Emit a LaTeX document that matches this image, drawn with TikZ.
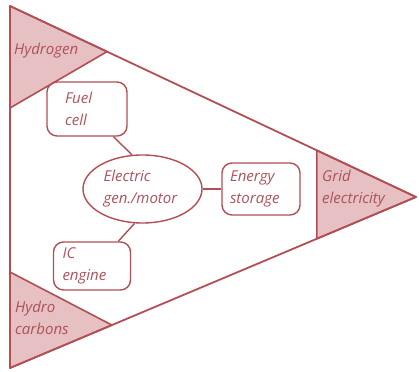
\documentclass[tikz,border=0pt]{standalone}
\usepackage{fontspec}
\setmainfont{Open Sans}
\usetikzlibrary{shapes.geometric,calc}

\definecolor{edgered}{RGB}{178,78,84}
\definecolor{fillred}{RGB}{230,192,194}
\definecolor{textred}{RGB}{172,82,90}

\tikzset{
    lbl/.style={text=textred,font=\fontsize{15}{22}\selectfont\itshape,align=left,inner sep=0pt},
    unitbox/.style={draw=edgered,line width=1.4pt,rounded corners=10pt,lbl},
    link/.style={draw=edgered,line width=1.4pt},
    corner/.style={fill=fillred,draw=edgered,line width=1.6pt,line join=round}
}

\begin{document}
\begin{tikzpicture}[x=1pt,y=1pt]
        \useasboundingbox (0,0) rectangle (419,371);

        \coordinate (tl) at (10,365);
        \coordinate (bl) at (10,3);
        \coordinate (tip) at (416,174);

        \coordinate (h1) at ($(tl)!0.239!(tip)$);
        \coordinate (h2) at (10,263);
        \coordinate (c1) at (10,99);
        \coordinate (c2) at ($(bl)!0.251!(tip)$);
        \coordinate (g1) at ($(tl)!0.756!(tip)$);
        \coordinate (g2) at ($(bl)!0.756!(tip)$);

        % sources at the corners
        \filldraw[corner] (tl) -- (h1) -- (h2) -- cycle;
        \filldraw[corner] (bl) -- (c2) -- (c1) -- cycle;
        \filldraw[corner] (tip) -- (g1) -- (g2) -- cycle;
        \draw[edgered,line width=1.8pt,line join=round] (tl) -- (tip) -- (bl) -- cycle;

        \node[lbl,anchor=west] (hydrogen) at (14,320) {Hydrogen};
        \node[lbl,anchor=west] (hydrocarbons) at (15,53) {Hydro\\carbons};
        \node[lbl,anchor=west] (grid) at (322,182) {Grid\\electricity};

        % converters
        \node[unitbox,minimum width=80,minimum height=54,text width=44] (fuel) at (87,262) {Fuel\\cell};
        \node[unitbox,minimum width=77,minimum height=48,text width=59] (ic) at (92,105) {IC\\engine};
        \node[unitbox,minimum width=78,minimum height=52,text width=62] (storage) at (261,182) {Energy\\storage};
        \node[lbl,ellipse,draw=edgered,line width=1.4pt,minimum width=119,minimum height=68,text width=78] (elec) at (142.5,182) {Electric\\gen./motor};

        \draw[link] ($(fuel.south)!0.65!(fuel.south east)$) -- (elec.107);
        \draw[link] (elec.257) -- ($(ic.north)!0.67!(ic.north east)$);
        \draw[link] (elec) -- (storage);
\end{tikzpicture}
\end{document}
